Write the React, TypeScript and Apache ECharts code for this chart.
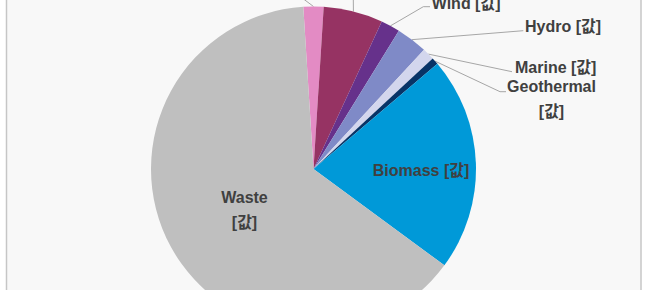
import React, { useEffect, useRef } from "react";
import * as echarts from "echarts";

// ---- data ----
const categories = ["Solar Thermal", "Solar PV", "Wind", "Hydro", "Marine", "Geothermal", "Biomass", "Waste"];
const shares = [2.0, 5.9, 1.9, 3.1, 1.2, 0.7, 21.3, 63.9];
const valueText = "[값]";
const twoLineLabels = ["Geothermal", "Waste"];
const insideLabels = ["Biomass", "Waste"];

// ---- styles / layout ----
const sliceColors = ["#e38bc4", "#963363", "#66318b", "#7f8ac7", "#d3d6ed", "#083467", "#0099d8", "#bfbfbf"];
type Placement = { x: number; y: number; align: string; vAlign: string; bends: number[][] };
const placements: Placement[] = [
  { x: 286, y: -14, align: "right", vAlign: "middle", bends: [[292, -9.6], [288, -9.6]] },
  { x: 353, y: -12, align: "center", vAlign: "bottom", bends: [[353.2, -12]] },
  { x: 431.7, y: 3.5, align: "left", vAlign: "middle", bends: [[423.3, 6.7], [430, 6.7]] },
  { x: 525, y: 26.5, align: "left", vAlign: "middle", bends: [[523.3, 30.7]] },
  { x: 515, y: 67, align: "left", vAlign: "middle", bends: [[512, 71.7]] },
  { x: 551.5, y: 99.2, align: "center", vAlign: "middle", bends: [[500, 91.7], [506, 91.7]] },
  { x: 421, y: 170, align: "center", vAlign: "middle", bends: [] },
  { x: 244.5, y: 209.7, align: "center", vAlign: "middle", bends: [] },
];

const FONT = "'Liberation Sans', Arial, 'Noto Sans CJK KR', sans-serif";

export default function App() {
  const ref = useRef<HTMLDivElement>(null);
  useEffect(() => {
    if (!ref.current) return;
    const chart = echarts.init(ref.current, null, { renderer: "svg" });
    const data = categories.map((name, i) => {
      const inside = insideLabels.includes(name);
      return {
        name,
        value: shares[i],
        itemStyle: { color: sliceColors[i] },
        label: { position: inside ? "inside" : "outside" },
        labelLine: { show: !inside },
      };
    });
    chart.setOption({
      animation: false,
      backgroundColor: "#ffffff",
      graphic: [
        {
          type: "rect",
          z: -10,
          shape: { x: 6.5, y: -10, width: 634.5, height: 320 },
          style: { fill: "#f8f8f8", stroke: "#c6c6c6", lineWidth: 1.5 },
          silent: true,
        },
      ],
      series: [
        {
          type: "pie",
          center: [313.5, 169],
          radius: 162.5,
          startAngle: 93.6,
          clockwise: true,
          data,
          label: {
            show: true,
            formatter: (p: any) =>
              twoLineLabels.includes(p.name) ? `${p.name}\n${valueText}` : `${p.name} ${valueText}`,
            fontFamily: FONT,
            fontWeight: "bold",
            fontSize: 16,
            lineHeight: 25,
            color: "#404040",
          },
          labelLine: {
            show: true,
            length: 10,
            length2: 10,
            lineStyle: { color: "#a6a6a6", width: 1 },
          },
          labelLayout: (params: any) => {
            const pl = placements[params.dataIndex];
            const out: any = {
              x: pl.x,
              y: pl.y,
              align: pl.align,
              verticalAlign: pl.vAlign,
            };
            if (pl.bends.length && params.labelLinePoints && params.labelLinePoints.length) {
              const start = params.labelLinePoints[0];
              out.labelLinePoints = [start, ...pl.bends];
            }
            return out;
          },
          emphasis: { disabled: true },
        },
      ],
    });
    return () => chart.dispose();
  }, []);
  return (
    <div style={{ position: "fixed", left: 0, top: 0, width: 650, height: 290, overflow: "hidden", background: "#fff" }}>
      <div ref={ref} style={{ width: 650, height: 290 }} />
    </div>
  );
}
